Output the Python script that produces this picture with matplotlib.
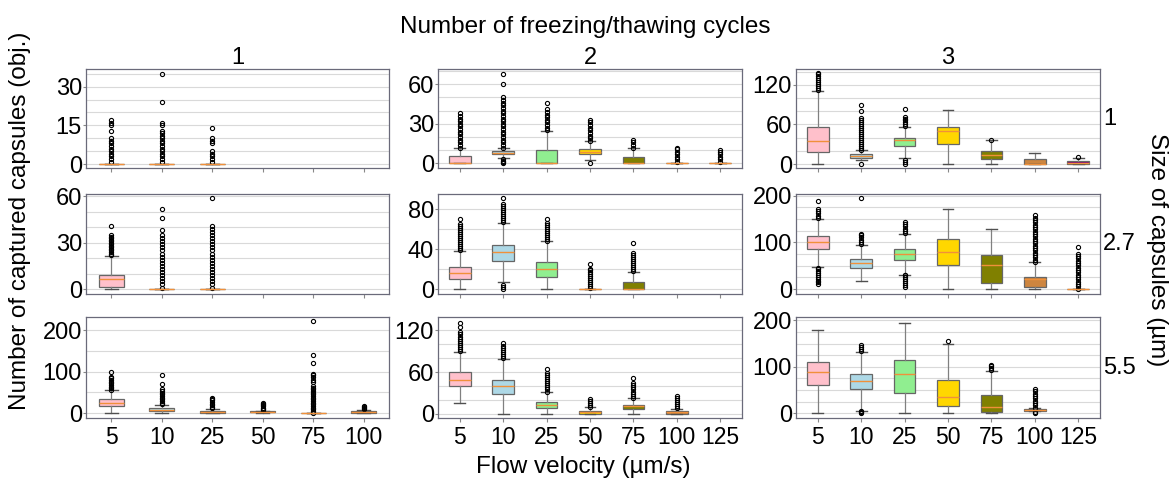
import numpy as np
import matplotlib.pyplot as plt

plt.rcParams['font.family'] = ['Liberation Sans', 'DejaVu Sans']

velocities = ['5', '10', '25', '50', '75', '100', '125']
size_labels = ['1', '2.7', '5.5']
cycle_labels = ['1', '2', '3']

# box stats per flow velocity: (whislo, q1, median, q3, whishi)
# size 1 um
stats_s1_c1 = [(0, 0, 0, 0, 0), (0, 0, 0, 0, 0), (0, 0, 0, 0, 0)]
fliers_s1_c1 = [[1, 2, 3, 4, 5, 6, 7, 8, 9, 10, 13, 15, 16, 17],
                [1, 2, 3, 4, 5, 6, 7, 8, 9, 10, 11, 12, 13, 15, 16, 24, 35],
                [1, 2, 3, 4, 5, 8, 9, 10, 14]]

stats_s1_c2 = [(0, 0, 0, 5.3, 11.8), (4.3, 6.8, 8, 9.5, 11.8), (0, 0, 0, 10, 24.8),
               (2.3, 6.8, 9, 10.8, 16.8), (0, 0, 0, 5, 11.8), (0, 0, 0, 0, 0), (0, 0, 0, 0, 0)]
fliers_s1_c2 = [[12, 14, 16, 18, 20, 22, 24, 26, 28, 30, 32, 34, 36, 38],
                [0, 1, 2, 3, 12, 14, 16, 18, 20, 22, 24, 26, 28, 30, 32, 34, 36, 38, 40,
                 42, 44, 46, 48, 50, 60, 68],
                [25, 27, 29, 31, 33, 35, 37, 39, 41, 46],
                [0, 17, 19, 21, 23, 25, 27, 29, 31, 33],
                [12, 14, 16, 18],
                [1, 3, 5, 7, 9, 11, 12],
                [1, 3, 5, 7, 9, 10]]

stats_s1_c3 = [(0, 18.2, 35.4, 55.5, 111), (5.6, 9.1, 12.6, 15.2, 21.7), (8.6, 26.8, 36, 39.4, 56),
               (0, 30.3, 49.5, 56, 82), (0, 8, 14, 19.2, 36), (0, 0, 0, 7.6, 16.7), (0, 0, 1.5, 4, 9.6)]
fliers_s1_c3 = [[112, 115, 118, 121, 124, 127, 130, 133, 136, 138],
                [0, 22, 25, 28, 31, 34, 37, 40, 43, 46, 49, 52, 55, 58, 61, 64, 67, 70, 81, 89],
                [0, 3, 6, 57, 60, 63, 66, 69, 72, 84],
                [],
                [37],
                [],
                [10.5]]

# size 2.7 um
stats_s27_c1 = [(0, 1.3, 6.5, 9.3, 21.6), (0, 0, 0, 0, 0), (0, 0, 0, 0, 0)]
fliers_s27_c1 = [[22, 23, 24, 25, 26, 27, 28, 29, 30, 31, 32, 33, 34, 35, 41],
                 [1, 3, 5, 7, 9, 11, 13, 15, 17, 19, 21, 23, 25, 27, 29, 31, 33, 35, 38, 46, 52],
                 [1, 3, 5, 7, 9, 11, 13, 15, 17, 19, 21, 23, 25, 27, 29, 31, 33, 35, 37, 39, 41, 59]]

stats_s27_c2 = [(0, 10.3, 16, 22, 38), (6.7, 28.3, 37.3, 44, 66), (0, 12, 20, 27, 47.7),
                (0, 0, 0, 0, 0), (0, 0, 0, 6.7, 17)]
fliers_s27_c2 = [[39, 41, 43, 45, 47, 49, 51, 53, 55, 57, 59, 61, 63, 65, 70],
                 [0, 2, 4, 67, 69, 71, 73, 75, 77, 79, 81, 83, 85, 91],
                 [48, 50, 52, 54, 56, 58, 60, 62, 64, 66, 70],
                 [1, 3, 5, 7, 9, 11, 13, 15, 17, 19, 20, 25],
                 [18, 20, 22, 24, 26, 28, 30, 32, 34, 36, 46]]

stats_s27_c3 = [(47, 86, 100.7, 113, 151), (18, 45, 56, 65, 95), (31, 63, 76, 86, 118),
                (0, 51, 80, 107, 171), (0, 13, 51, 73, 129), (0, 4, 21, 26, 57), (0, 0, 0, 0, 0)]
fliers_s27_c3 = [[10, 14, 18, 22, 26, 30, 34, 38, 42, 46, 152, 157, 162, 167, 171, 188],
                 [96, 101, 106, 111, 116, 118, 195],
                 [5, 9, 13, 17, 21, 25, 29, 30, 119, 124, 129, 134, 139, 143],
                 [],
                 [],
                 [58, 63, 68, 73, 78, 83, 88, 93, 98, 103, 108, 113, 118, 123, 128, 133,
                  138, 143, 148, 153, 158],
                 [1, 6, 11, 16, 21, 26, 31, 36, 41, 46, 51, 56, 61, 66, 71, 76, 91]]

# size 5.5 um
stats_s55_c1 = [(0, 17, 25, 33, 55), (0, 4, 8, 13, 20), (0, 0, 2, 5, 10.5),
                (1, 2, 3, 4, 6), (0, 0, 0, 0, 0), (0, 1, 2, 4, 8)]
fliers_s55_c1 = [[56, 60, 64, 68, 72, 76, 80, 84, 88, 100],
                 [21, 25, 29, 33, 37, 41, 45, 49, 53, 57, 69, 93],
                 [11, 15, 19, 23, 27, 31, 33, 36],
                 [7, 10, 13, 16, 19, 22, 25],
                 [1, 5, 9, 13, 17, 21, 25, 29, 33, 37, 41, 45, 49, 53, 57, 61, 65, 75, 80, 88,
                  93, 95, 120, 140, 222],
                 [9, 12, 15, 18]]

stats_s55_c2 = [(15.4, 39.4, 48, 59.6, 89), (0, 28, 39.4, 49, 79), (0, 8.2, 13, 17.3, 31),
                (0, 0, 2, 4, 9.6), (0, 7.2, 10.6, 13, 22.6), (0, 0, 2, 3.4, 7.2)]
fliers_s55_c2 = [[90, 93, 96, 99, 102, 105, 108, 111, 114, 117, 124, 130],
                 [80, 83, 86, 89, 92, 95, 98, 101],
                 [32, 35, 38, 41, 44, 47, 50, 53, 56, 59, 65],
                 [10, 13, 16, 19, 21],
                 [23, 26, 29, 32, 35, 38, 41, 44, 52],
                 [8, 11, 14, 17, 20, 23, 26]]

stats_s55_c3 = [(0, 61, 88, 111, 179), (5.7, 52, 69, 84, 132), (0, 43, 84, 115, 195),
                (0, 16, 36, 71, 148), (0, 2, 14, 39, 90), (5, 6, 8, 9, 11.4)]
fliers_s55_c3 = [[],
                 [0, 2, 4, 134, 138, 142, 146],
                 [],
                 [156],
                 [93, 97, 101, 104],
                 [0, 2, 12, 17, 22, 27, 32, 37, 42, 47, 52]]

panel_stats = [[stats_s1_c1, stats_s1_c2, stats_s1_c3],
               [stats_s27_c1, stats_s27_c2, stats_s27_c3],
               [stats_s55_c1, stats_s55_c2, stats_s55_c3]]
panel_fliers = [[fliers_s1_c1, fliers_s1_c2, fliers_s1_c3],
                [fliers_s27_c1, fliers_s27_c2, fliers_s27_c3],
                [fliers_s55_c1, fliers_s55_c2, fliers_s55_c3]]

# axis settings per panel
yticks = [[[0, 15, 30], [0, 30, 60], [0, 60, 120]],
          [[0, 30, 60], [0, 40, 80], [0, 100, 200]],
          [[0, 100, 200], [0, 60, 120], [0, 100, 200]]]
ylims = [[(-1.5, 36.8), (-3.5, 71.5), (-6, 144)],
         [(-3.2, 61.5), (-5, 95), (-10.7, 203.5)],
         [(-12, 232), (-6, 139), (-10, 207)]]
grid_step = [[5, 10, 20], [10, 20, 25], [50, 20, 25]]
ncat = [6, 7, 7]

box_colors = ['pink', 'lightblue', 'lightgreen', 'gold', 'olive', 'peru', 'purple']

W, H = 1173, 479
fig = plt.figure(figsize=(W / 100, H / 100), dpi=100)

lefts = [86, 438, 796]
widths = [303, 304, 304]
tops = [69, 194, 317]
heights = [99, 100, 101]

for r in range(3):
    for c in range(3):
        ax = fig.add_axes([lefts[c] / W, 1 - (tops[r] + heights[r]) / H,
                           widths[c] / W, heights[r] / H])
        st = panel_stats[r][c]
        fl = panel_fliers[r][c]
        bstats = [dict(whislo=s[0], q1=s[1], med=s[2], q3=s[3], whishi=s[4], fliers=f)
                  for s, f in zip(st, fl)]
        art = ax.bxp(bstats, positions=range(1, len(st) + 1), widths=0.5,
                     patch_artist=True,
                     boxprops=dict(edgecolor='#666666', linewidth=0.9),
                     whiskerprops=dict(color='#808080', linewidth=0.9),
                     capprops=dict(color='#505050', linewidth=1.0),
                     medianprops=dict(color='#f0903a', linewidth=1.0),
                     flierprops=dict(marker='o', markersize=3, markerfacecolor='none',
                                     markeredgecolor='black', markeredgewidth=0.8))
        for patch, col in zip(art['boxes'], box_colors):
            patch.set_facecolor(col)

        n = ncat[c]
        ax.set_xlim(0.5, n + 0.5)
        ax.set_xticks(range(1, n + 1))
        if r == 2:
            ax.set_xticklabels(velocities[:n])
        else:
            ax.set_xticklabels([])
        ax.set_ylim(*ylims[r][c])
        ax.set_yticks(yticks[r][c])
        ax.set_yticks(np.arange(0, ylims[r][c][1], grid_step[r][c]), minor=True)
        ax.grid(axis='y', which='both', color='#d9d9d9', linewidth=0.8)
        ax.set_axisbelow(True)
        ax.tick_params(axis='y', which='major', labelsize=17, length=2, pad=1,
                       color='#888888')
        ax.tick_params(axis='y', which='minor', length=0)
        ax.tick_params(axis='x', labelsize=16.5, length=3, pad=3, color='#888888')
        for sp in ax.spines.values():
            sp.set_color('#6a6a7a')
            sp.set_linewidth(0.9)

        if r == 0:
            ax.set_title(cycle_labels[c], fontsize=17, pad=2)
        if c == 2:
            ax.text(1.01, 0.5, size_labels[r], transform=ax.transAxes,
                    fontsize=17, va='center', ha='left')

fig.text(585 / W, 1 - 27 / H, 'Number of freezing/thawing cycles', fontsize=17.5,
         ha='center', va='center')
fig.text(583 / W, 1 - 467 / H, 'Flow velocity (µm/s)', fontsize=17.5,
         ha='center', va='center')
fig.text(20 / W, 1 - 221 / H, 'Number of captured capsules (obj.)', fontsize=17.5,
         ha='center', va='center', rotation=90)
fig.text(1157 / W, 1 - 250 / H, 'Size of capsules (µm)', fontsize=17.5,
         ha='center', va='center', rotation=270)

fig.savefig('out.png', dpi=100, facecolor='white')
